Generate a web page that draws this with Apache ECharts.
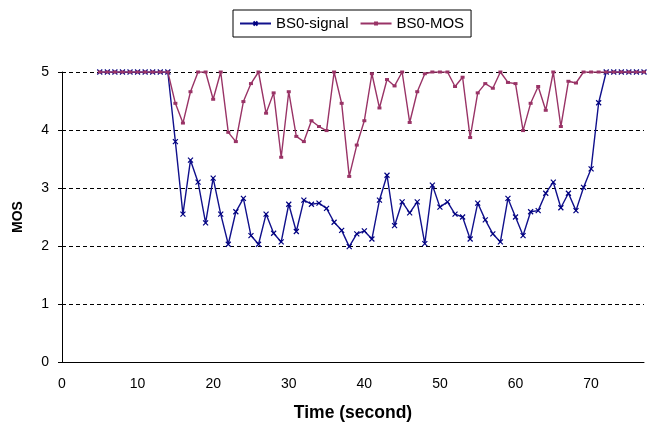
<!DOCTYPE html>
<html>
<head>
<meta charset="utf-8">
<script src="https://cdn.jsdelivr.net/npm/echarts@6/dist/echarts.min.js"></script>
<style>
html,body{margin:0;padding:0;background:#fff;}
#c{width:653px;height:429px;}
</style>
</head>
<body>
<div id="c"></div>
<script>
// time in seconds
const timeSec = [5,6,7,8,9,10,11,12,13,14,15,16,17,18,19,20,21,22,23,24,25,26,27,28,29,30,31,32,33,34,35,36,37,38,39,40,41,42,43,44,45,46,47,48,49,50,51,52,53,54,55,56,57,58,59,60,61,62,63,64,65,66,67,68,69,70,71,72,73,74,75,76,77];
const bs0Signal = [5,5,5,5,5,5,5,5,5,5,
  3.80,2.55,3.48,3.10,2.40,3.17,2.55,2.03,2.59,2.82,
  2.18,2.03,2.55,2.22,2.07,2.72,2.25,2.79,2.72,2.74,
  2.65,2.41,2.27,1.99,2.21,2.26,2.12,2.79,3.22,2.35,
  2.76,2.57,2.76,2.04,3.05,2.67,2.76,2.55,2.50,2.12,
  2.74,2.45,2.21,2.07,2.82,2.50,2.18,2.59,2.61,2.91,
  3.10,2.66,2.91,2.61,3.01,3.33,4.47,5,5,5,5,5,5];
const bs0Mos = [5,5,5,5,5,5,5,5,5,5,
  4.46,4.12,4.66,5.00,5.00,4.53,5.00,3.96,3.80,4.49,
  4.80,5.00,4.29,4.64,3.53,4.66,3.89,3.80,4.16,4.06,
  3.99,5.00,4.46,3.20,3.74,4.16,4.97,4.38,4.87,4.76,
  5.00,4.13,4.66,4.97,5.00,5.00,5.00,4.75,4.91,3.87,
  4.64,4.80,4.72,5.00,4.82,4.80,3.99,4.46,4.75,4.34,
  5.00,4.06,4.84,4.81,5,5,5,5,5,5,5,5,5];
const seriesNames = ['BS0-signal','BS0-MOS'];
const xTitle = 'Time (second)';
const yTitle = 'MOS';

const FONT = "'Liberation Sans', Arial, sans-serif";
const chart = echarts.init(document.getElementById('c'), null, {renderer:'canvas'});
const pairs = (ys) => timeSec.map((t,i)=>[t, ys[i]]);

chart.setOption({
  animation:false,
  backgroundColor:'#fff',
  textStyle:{fontFamily:FONT},
  grid:{left:62,right:9,top:72,bottom:67,containLabel:false},
  legend:{
    left:233, top:10,
    data:seriesNames,
    borderColor:'#000', borderWidth:1,
    padding:[6,7,6,6],
    itemGap:11, itemWidth:31, itemHeight:5,
    textStyle:{fontFamily:FONT,fontSize:15,color:'#000'}
  },
  xAxis:{
    type:'value', min:0, max:77, interval:10,
    name:xTitle, nameLocation:'middle', nameGap:42,
    nameTextStyle:{fontFamily:FONT,fontSize:17.5,fontWeight:'bold',color:'#000'},
    axisLine:{show:true,onZero:false,lineStyle:{color:'#000',width:1}},
    axisTick:{show:false},
    axisLabel:{fontFamily:FONT,fontSize:14,color:'#000',margin:15,
      formatter:(v)=> (v%10===0? String(v):'')},
    splitLine:{show:false}
  },
  yAxis:{
    type:'value', min:0, max:5, interval:1,
    name:yTitle, nameLocation:'middle', nameGap:37, nameRotate:90,
    nameTextStyle:{fontFamily:FONT,fontSize:14,fontWeight:'bold',color:'#000'},
    axisLine:{show:true,lineStyle:{color:'#000',width:1}},
    axisTick:{show:true,length:4,lineStyle:{color:'#000'}},
    axisLabel:{fontFamily:FONT,fontSize:14,color:'#000',margin:13},
    splitLine:{show:true,lineStyle:{color:'#000',type:[4,3],width:1}}
  },
  series:[
    {
      name:seriesNames[0], type:'line', data:pairs(bs0Signal),
      color:'#000080',
      symbol:'path://M0,0L10,10M10,0L0,10', symbolSize:5, showAllSymbol:true,
      lineStyle:{color:'#10108c',width:1.4},
      itemStyle:{color:'#000080',borderColor:'#000080',borderWidth:1.2},
      emphasis:{disabled:true}, z:2
    },
    {
      name:seriesNames[1], type:'line', data:pairs(bs0Mos),
      color:'#993366',
      symbol:'rect', symbolSize:[4,3], showAllSymbol:true,
      lineStyle:{color:'#993366',width:1.4},
      itemStyle:{color:'#993366'},
      emphasis:{disabled:true}, z:3
    }
  ]
});
</script>
</body>
</html>
